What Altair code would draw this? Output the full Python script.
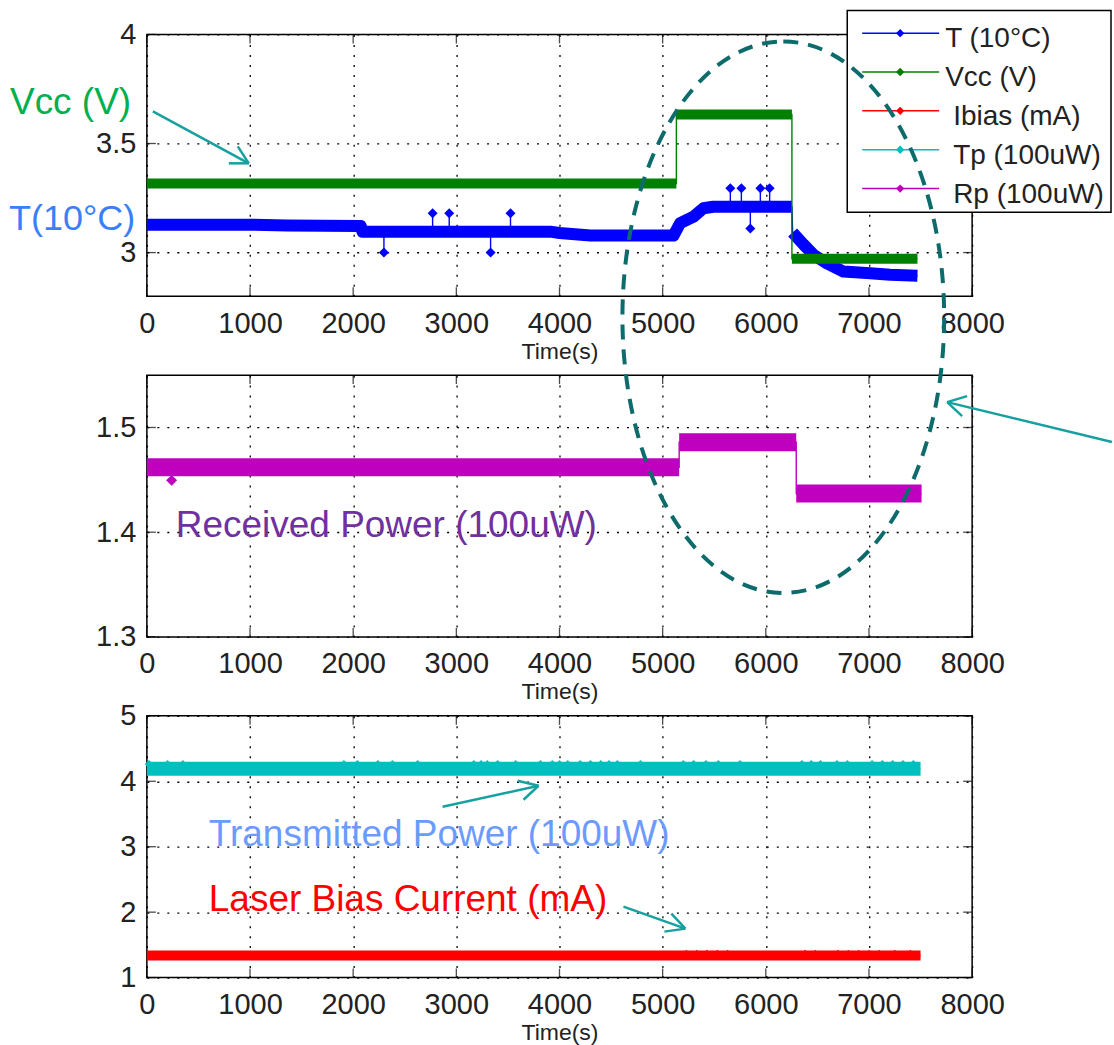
import altair as alt
import pandas as pd

# ------------------------------------------------------------------ data
series_keys = ["T", "Vcc", "Ibias", "Tp", "Rp"]
legend_labels = ["T (10°C)", "Vcc (V)", "Ibias (mA)", "Tp (100uW)", "Rp (100uW)"]
series_colors = ["#0000ff", "#008000", "#ff0000", "#00bfbf", "#bf00bf"]

x_ticks = [0, 1000, 2000, 3000, 4000, 5000, 6000, 7000, 8000]
y1_ticks = [3, 3.5, 4]
y2_ticks = [1.3, 1.4, 1.5]
y3_ticks = [1, 2, 3, 4, 5]

# T (10°C)
t_time = [0, 1000, 1360, 2073, 2090, 3910, 4000, 4300, 5105, 5170, 5300, 5395, 5490, 6253,
          6260, 6366, 6462, 6593, 6753, 7012, 7206, 7470]
t_value = [3.128, 3.128, 3.124, 3.122, 3.096, 3.096, 3.09, 3.078, 3.078, 3.135, 3.165, 3.203, 3.21, 3.21,
           3.092, 3.037, 2.99, 2.95, 2.913, 2.905, 2.898, 2.894]
t_segment = [0] * 14 + [1] * 8
t_spike_time = [2298, 2770, 2931, 3332, 3525, 5656, 5763, 5850, 5947, 6037]
t_spike_base = [3.096, 3.096, 3.096, 3.096, 3.096, 3.21, 3.21, 3.21, 3.21, 3.21]
t_spike_value = [3.0, 3.18, 3.18, 3.0, 3.18, 3.295, 3.295, 3.11, 3.295, 3.295]

# Vcc (V)
vcc_time = [0, 5133, 5133, 6253, 6253, 7470]
vcc_value = [3.317, 3.317, 3.633, 3.633, 2.972, 2.972]
vcc_segment = [0, 0, 1, 1, 2, 2]

# Rp (100uW)
rp_time = [0, 5160, 5160, 6295, 6295, 7510]
rp_value = [1.462, 1.462, 1.486, 1.486, 1.437, 1.437]
rp_segment = [0, 0, 1, 1, 2, 2]
rp_outlier_time = [240]
rp_outlier_value = [1.4495]

# Tp (100uW)
tp_time = [0, 7500]
tp_value = [4.19, 4.19]
tp_bump_time = [20, 200, 350, 1910, 2040, 2240, 2380, 2625, 3170, 3240, 3300, 3400, 3575, 3815,
                3930, 4000, 4080, 4200, 4300, 4400, 4480, 4560, 4785, 5200, 5300, 5420, 5540,
                5750, 6350, 6440, 6530, 6690, 6790, 7030, 7130, 7230, 7330, 7430]
tp_bump_value = [4.26] * len(tp_bump_time)

# Ibias (mA)
ib_time = [0, 7500]
ib_value = [1.338, 1.338]
ib_bump_time = [5230, 5330, 5430, 5530, 5630, 6380, 6480, 6700, 6800, 6900, 7000, 7100, 7250, 7400]
ib_bump_value = [1.365] * len(ib_bump_time)

# ------------------------------------------------------------------ style
FONT = "Liberation Sans"
W, H = 826, 262
TICK = 9
ARROW = "#17a0a0"
ELLIPSE = "#0d6b6b"

xs = alt.Scale(domain=[0, 8000], nice=False, zero=False)
ys1 = alt.Scale(domain=[2.8, 4], nice=False, zero=False)
ys2 = alt.Scale(domain=[1.3, 1.55], nice=False, zero=False)
ys3 = alt.Scale(domain=[1, 5], nice=False, zero=False)
color = alt.Color("series:N", scale=alt.Scale(domain=series_keys, range=series_colors), legend=None)

one = pd.DataFrame({"k": [0]})

XA = alt.Axis(values=x_ticks, format="d", title="Time(s)", grid=True, labelPadding=13, titlePadding=2,
              labelFlush=False, labelOverlap=False)


def yaxis(vals, fmt):
    return alt.Axis(values=vals, format=fmt, title=None, grid=True, labelPadding=11,
                    labelFlush=False, labelOverlap=False)


def line_df(times, values, segs, key):
    return pd.DataFrame({"time": times, "value": values, "seg": segs,
                         "idx": list(range(len(times))), "series": key})


def pts_df(times, values, key, base=None):
    d = pd.DataFrame({"time": times, "value": values, "series": key})
    if base is not None:
        d["base"] = base
    return d


class Panel:
    def __init__(self, ys, ya):
        self.ys = ys
        self.ya = ya
        self.layers = []

    def X(self, field="time"):
        return alt.X(f"{field}:Q", scale=xs, axis=XA)

    def Y(self, field="value"):
        return alt.Y(f"{field}:Q", scale=self.ys, axis=self.ya)

    def band(self, df, width):
        self.layers.append(alt.Chart(df).mark_line(strokeWidth=width, strokeCap="butt",
                                                   strokeJoin="round").encode(
            x=self.X(), y=self.Y(), color=color, detail="seg:N"))
        self.layers.append(alt.Chart(df).mark_line(strokeWidth=1.4).encode(
            x=self.X(), y=self.Y(), color=color, order=alt.Order("idx:Q")))

    def diamonds(self, df, size=100):
        self.layers.append(alt.Chart(df).mark_point(shape="diamond", filled=True, size=size,
                                                    opacity=1).encode(
            x=self.X(), y=self.Y(), color=color))

    def spikes(self, df):
        self.layers.append(alt.Chart(df).mark_rule(strokeWidth=1.4).encode(
            x=self.X(), y=self.Y("base"), y2="value:Q", color=color))

    def frame_ticks(self, yvals):
        xt = pd.DataFrame({"v": x_ticks})
        yt = pd.DataFrame({"v": yvals})
        for ypos in (TICK / 2, H - TICK / 2):
            self.layers.append(alt.Chart(xt).mark_tick(size=TICK, thickness=1.3, color="#000").encode(
                x=self.X("v"), y=alt.value(ypos)))
        for xpos in (TICK / 2, W - TICK / 2):
            self.layers.append(alt.Chart(yt).mark_tick(size=TICK, thickness=1.3, color="#000").encode(
                y=self.Y("v"), x=alt.value(xpos)))

    def seg(self, x1, y1, x2, y2, col=ARROW, w=2.5):
        self.layers.append(alt.Chart(one).mark_rule(color=col, strokeWidth=w).encode(
            x=alt.value(x1), y=alt.value(y1), x2=alt.value(x2), y2=alt.value(y2)))

    def arrow(self, tail, tip, h1, h2):
        self.seg(tail[0], tail[1], tip[0], tip[1])
        self.seg(tip[0], tip[1], h1[0], h1[1])
        self.seg(tip[0], tip[1], h2[0], h2[1])

    def label(self, text, x, y, col, size=37):
        self.layers.append(alt.Chart(one).mark_text(align="left", baseline="alphabetic", font=FONT,
                                                    fontSize=size, color=col, text=text).encode(
            x=alt.value(x), y=alt.value(y)))

    def chart(self):
        return alt.layer(*self.layers).properties(width=W, height=H)


# ------------------------------------------------------------------ panel 1
P1 = Panel(ys1, yaxis(y1_ticks, "~g"))
P1.band(line_df(t_time, t_value, t_segment, "T"), 12)
t_sp = pts_df(t_spike_time, t_spike_value, "T", base=t_spike_base)
P1.spikes(t_sp)
P1.diamonds(t_sp)
P1.band(line_df(vcc_time, vcc_value, vcc_segment, "Vcc"), 10)
P1.frame_ticks(y1_ticks)

# legend (drawn inside panel 1)
P1.layers.append(alt.Chart(one).mark_rect(fill="white", stroke="#000", strokeWidth=1.5).encode(
    x=alt.value(701), x2=alt.value(965), y=alt.value(-24), y2=alt.value(178)))
for i, (key, lab) in enumerate(zip(series_keys, legend_labels)):
    row_y = -1.3 + 38.9 * i
    ldf = pd.DataFrame({"series": [key], "label": [lab]})
    P1.layers.append(alt.Chart(ldf).mark_rule(strokeWidth=1.5).encode(
        x=alt.value(716), x2=alt.value(793), y=alt.value(row_y), color=color))
    P1.layers.append(alt.Chart(ldf).mark_point(shape="diamond", filled=True, size=70, opacity=1).encode(
        x=alt.value(754), y=alt.value(row_y), color=color))
    P1.layers.append(alt.Chart(ldf).mark_text(align="left", baseline="middle", font=FONT, fontSize=28,
                                              color="#222").encode(
        x=alt.value(799 if i < 2 else 807), y=alt.value(row_y + 6), text="label:N"))

P1.label("Vcc (V)", -137, 80, "#00b050")
P1.label("T(10°C)", -138, 196, "#3a7ffa", size=36)
P1.arrow((6, 77), (102, 129), (82, 129), (91, 112))

# ------------------------------------------------------------------ panel 2
P2 = Panel(ys2, yaxis(y2_ticks, ".1f"))
P2.band(line_df(rp_time, rp_value, rp_segment, "Rp"), 18)
P2.diamonds(pts_df(rp_outlier_time, rp_outlier_value, "Rp"), size=120)
P2.frame_ticks(y2_ticks)
P2.label("Received Power (100uW)", 29, 162, "#7030a0")
ellipse_path = ("M 0 -276 C 88.9 -276 161 -152.4 161 0 C 161 152.4 88.9 276 0 276 "
                "C -88.9 276 -161 152.4 -161 0 C -161 -152.4 -88.9 -276 0 -276 Z")
P2.layers.append(alt.Chart(one).mark_point(shape=ellipse_path, size=4, filled=False, opacity=1,
                                           stroke=ELLIPSE, strokeWidth=4, strokeDash=[15, 10]).encode(
    x=alt.value(637), y=alt.value(-58)))
P2.arrow((966, 67), (801, 27), (821, 21), (816, 41))

# ------------------------------------------------------------------ panel 3
P3 = Panel(ys3, yaxis(y3_ticks, "d"))
P3.band(line_df(ib_time, ib_value, [0, 0], "Ibias"), 10)
P3.diamonds(pts_df(ib_bump_time, ib_bump_value, "Ibias"), size=60)
P3.band(line_df(tp_time, tp_value, [0, 0], "Tp"), 14)
P3.diamonds(pts_df(tp_bump_time, tp_bump_value, "Tp"), size=70)
P3.frame_ticks(y3_ticks)
P3.label("Transmitted Power (100uW)", 62, 130, "#6b9bff")
P3.label("Laser Bias Current (mA)", 62, 195, "#ff0000")
P3.arrow((296, 91), (392, 70), (371, 65), (377, 84))
P3.arrow((477, 191), (539, 213), (525, 198), (518, 216))

# ------------------------------------------------------------------ assemble
chart = alt.vconcat(P1.chart(), P2.chart(), P3.chart(), spacing=79, bounds="flush").properties(
    padding={"left": 8, "top": 8, "right": 0, "bottom": 0},
    background="white",
).configure(font=FONT).configure_view(
    stroke="#000", strokeWidth=1.5
).configure_axis(
    labelFont=FONT, labelFontSize=29, labelColor="#222",
    titleFont=FONT, titleFontSize=23, titleColor="#222", titleFontWeight="normal",
    domain=False, ticks=False,
    gridColor="#000", gridDash=[2, 8], gridWidth=1.3, gridOpacity=1,
)

chart.save("out.html", embed_options={"renderer": "svg", "actions": False})
